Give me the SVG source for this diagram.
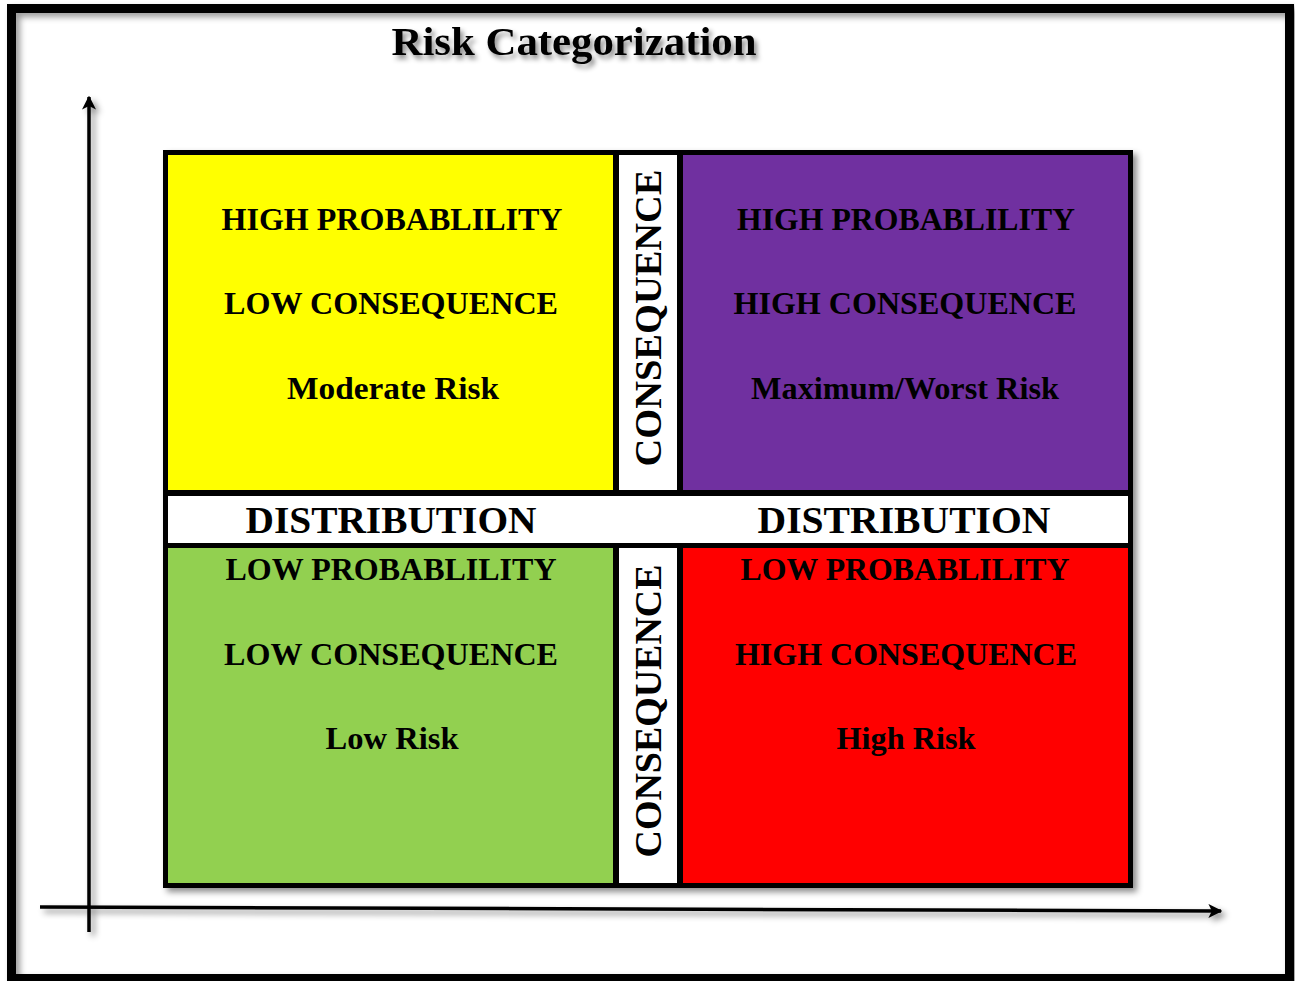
<svg xmlns="http://www.w3.org/2000/svg" width="1295" height="981" viewBox="0 0 1295 981">
<style>
.t{font-family:"Liberation Serif","Times New Roman",serif;font-weight:bold;fill:#000;text-anchor:middle}
.c{font-size:32px}
.d{font-size:38px}
.ax{stroke:#000;stroke-width:3.5;fill:none}
</style>
<defs>
<filter id="sh" x="-10%" y="-10%" width="130%" height="130%">
<feDropShadow dx="4" dy="4" stdDeviation="3" flood-color="#000" flood-opacity="0.45"/>
</filter>
<filter id="ash" filterUnits="userSpaceOnUse" x="0" y="60" width="1295" height="900">
<feDropShadow dx="4" dy="4" stdDeviation="3" flood-color="#000" flood-opacity="0.45"/>
</filter>
<filter id="fsh" x="-5%" y="-5%" width="110%" height="110%">
<feDropShadow dx="4" dy="4" stdDeviation="3" flood-color="#000" flood-opacity="0.4"/>
</filter>
<filter id="tsh" x="-10%" y="-30%" width="130%" height="180%">
<feDropShadow dx="3" dy="4" stdDeviation="2.5" flood-color="#000" flood-opacity="0.45"/>
</filter>
<marker id="ah" viewBox="0 0 10 10" refX="9" refY="5" markerWidth="14" markerHeight="14" markerUnits="userSpaceOnUse" orient="auto">
<path d="M0,0 L10,5 L0,10 L2.5,5 Z" fill="#000"/>
</marker>
</defs>
<rect width="1295" height="981" fill="#fff"/>
<g id="frame">
<rect x="11.5" y="8.5" width="1278" height="970" fill="none" stroke="#000" stroke-width="9" filter="url(#fsh)"/>
</g>
<g id="title">
<text class="t" x="574" y="55" font-size="40" textLength="365" lengthAdjust="spacingAndGlyphs" filter="url(#tsh)">Risk Categorization</text>
</g>
<g id="connectors" filter="url(#ash)">
<line class="ax" x1="89" y1="932" x2="89" y2="97" marker-end="url(#ah)"/>
<line class="ax" x1="40" y1="907" x2="1221" y2="911" marker-end="url(#ah)"/>
</g>
<g id="matrix">
<rect x="163" y="150" width="970" height="738" fill="#000" filter="url(#sh)"/>
</g>
<g id="yellow-cell">
<rect x="168" y="155" width="445" height="335" fill="#FFFF00"/>
<text class="t c" x="392" y="230" textLength="341" lengthAdjust="spacingAndGlyphs">HIGH PROBABLILITY</text>
<text class="t c" x="391" y="314" textLength="334" lengthAdjust="spacingAndGlyphs">LOW CONSEQUENCE</text>
<text class="t c" x="393" y="399" textLength="212" lengthAdjust="spacingAndGlyphs">Moderate Risk</text>
</g>
<g id="consequence-top">
<rect x="619" y="155" width="58" height="335" fill="#fff"/>
<text class="t d" transform="translate(661,318) rotate(-90)" textLength="297" lengthAdjust="spacingAndGlyphs">CONSEQUENCE</text>
</g>
<g id="purple-cell">
<rect x="683" y="155" width="445" height="335" fill="#7030A0"/>
<text class="t c" x="906" y="230" textLength="338" lengthAdjust="spacingAndGlyphs">HIGH PROBABLILITY</text>
<text class="t c" x="905" y="314" textLength="343" lengthAdjust="spacingAndGlyphs">HIGH CONSEQUENCE</text>
<text class="t c" x="905" y="399" textLength="308" lengthAdjust="spacingAndGlyphs">Maximum/Worst Risk</text>
</g>
<g id="distribution">
<rect x="168" y="496" width="960" height="47" fill="#fff"/>
<text class="t d" x="391" y="533" textLength="291" lengthAdjust="spacingAndGlyphs">DISTRIBUTION</text>
<text class="t d" x="904" y="533" textLength="293" lengthAdjust="spacingAndGlyphs">DISTRIBUTION</text>
</g>
<g id="green-cell">
<rect x="168" y="548" width="445" height="335" fill="#92D050"/>
<text class="t c" x="391" y="580" textLength="331" lengthAdjust="spacingAndGlyphs">LOW PROBABLILITY</text>
<text class="t c" x="391" y="665" textLength="334" lengthAdjust="spacingAndGlyphs">LOW CONSEQUENCE</text>
<text class="t c" x="392" y="749" textLength="133" lengthAdjust="spacingAndGlyphs">Low Risk</text>
</g>
<g id="consequence-bottom">
<rect x="619" y="548" width="58" height="335" fill="#fff"/>
<text class="t d" transform="translate(661,711) rotate(-90)" textLength="293" lengthAdjust="spacingAndGlyphs">CONSEQUENCE</text>
</g>
<g id="red-cell">
<rect x="683" y="548" width="445" height="335" fill="#FF0000"/>
<text class="t c" x="905" y="580" textLength="329" lengthAdjust="spacingAndGlyphs">LOW PROBABLILITY</text>
<text class="t c" x="906" y="665" textLength="342" lengthAdjust="spacingAndGlyphs">HIGH CONSEQUENCE</text>
<text class="t c" x="906" y="749" textLength="139" lengthAdjust="spacingAndGlyphs">High Risk</text>
</g>
</svg>
